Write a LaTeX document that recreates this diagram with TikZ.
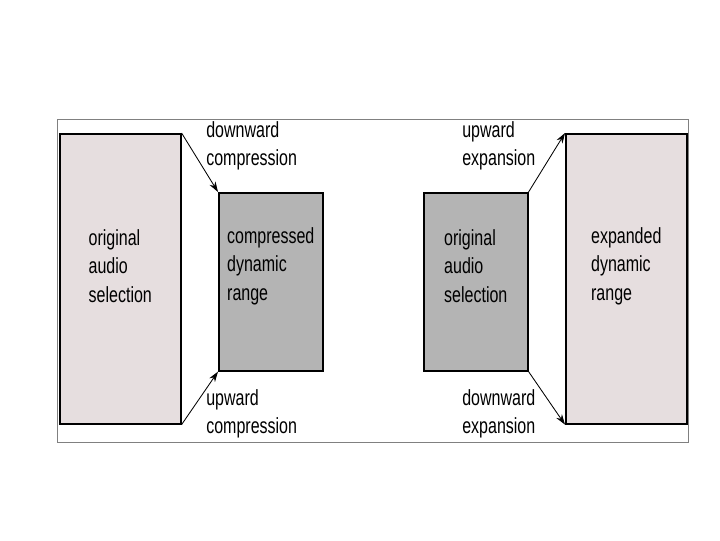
\documentclass[tikz,border=0pt]{standalone}
\usepackage{fontspec}
\setmainfont{Liberation Sans}
\newfontfamily\narrowsans[FakeStretch=0.73]{Liberation Sans}
\usetikzlibrary{arrows.meta}

\definecolor{boxpink}{RGB}{230,222,223}
\definecolor{boxgray}{RGB}{180,180,180}

\begin{document}
\begin{tikzpicture}[x=0.025cm, y=-0.025cm,
    box/.style={draw, line width=1.1pt, anchor=north west, inner sep=0pt},
    bigbox/.style={box, fill=boxpink, minimum width=3.025cm, minimum height=7.25cm},
    smallbox/.style={box, fill=boxgray, minimum width=2.6cm, minimum height=4.45cm},
    txt/.style={align=left, inner sep=0pt, font=\narrowsans\fontsize{15.6}{20.2}\selectfont},
    lbl/.style={txt, anchor=west},
    arr/.style={-{Stealth[length=2.6mm, width=1.7mm]}, line width=0.6pt}]
  \useasboundingbox (0,0) rectangle (720,540);

  % outer frame
  \draw[gray, line width=0.6pt] (57,119) rectangle (688,442);

  % boxes
  \node[bigbox]   (orig)  at (59,133)  {};
  \node[smallbox] (comp)  at (218,192) {};
  \node[smallbox] (orig2) at (423,192) {};
  \node[bigbox]   (expd)  at (565,133) {};

  % text inside boxes
  \coordinate (row) at (0,266);
  \node[txt] (origtxt)  at (orig |- row)  {original\\audio\\selection};
  \node[txt] (comptxt)  at (comp |- row)  {compressed\\dynamic\\range};
  \node[txt] (orig2txt) at (orig2 |- row) {original\\audio\\selection};
  \node[txt] (expdtxt)  at (expd |- row)  {expanded\\dynamic\\range};

  % arrows
  \draw[arr] (orig.north east) -- (comp.north west);
  \draw[arr] (orig.south east) -- (comp.south west);
  \draw[arr] (orig2.north east) -- (expd.north west);
  \draw[arr] (orig2.south east) -- (expd.south west);

  % labels
  \node[lbl] (dc) at (206,146) {downward\\compression};
  \node[lbl] (uc) at (206,414) {upward\\compression};
  \node[lbl] (ue) at (462,146) {upward\\expansion};
  \node[lbl] (de) at (462,414) {downward\\expansion};
\end{tikzpicture}
\end{document}
